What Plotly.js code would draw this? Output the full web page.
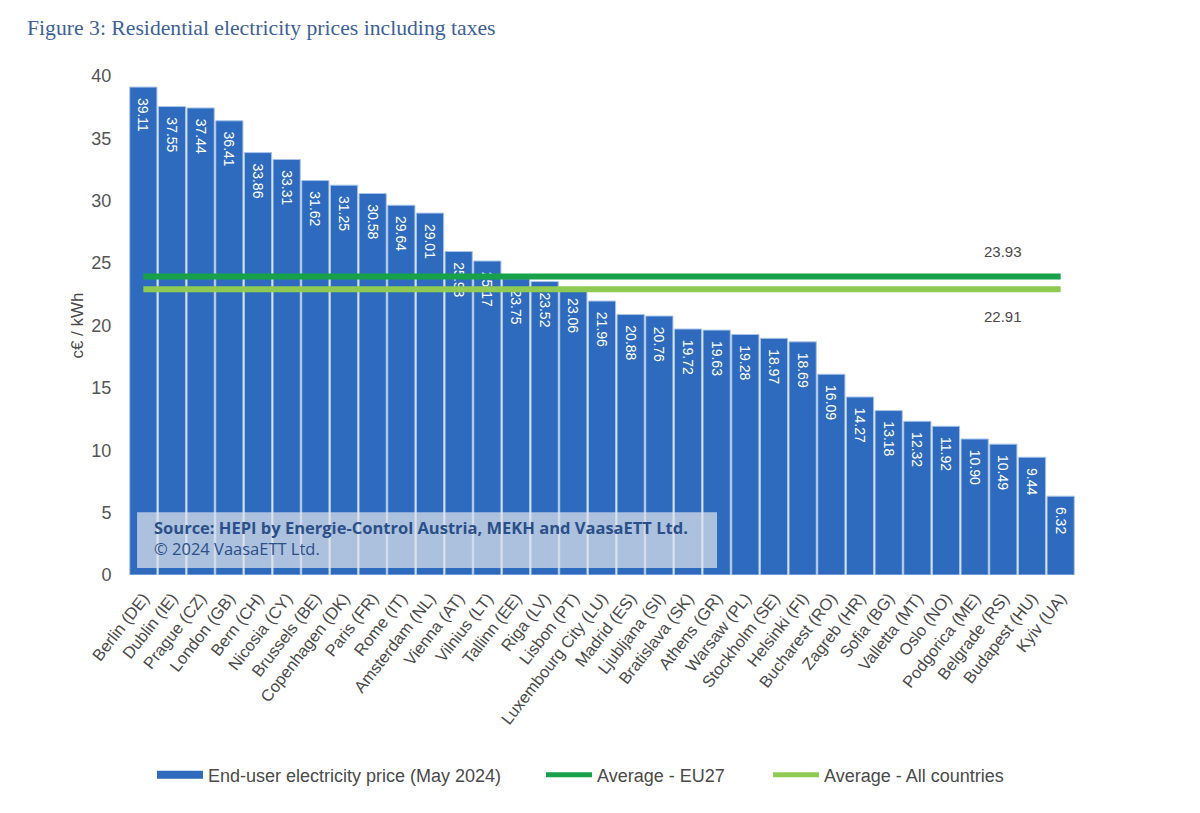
<!DOCTYPE html>
<html>
<head>
<meta charset="utf-8">
<script src="https://cdn.plot.ly/plotly-3.0.1.min.js"></script>
<style>
  html, body { margin: 0; padding: 0; background: #ffffff; }
  #chart { width: 1200px; height: 813px; }
</style>
</head>
<body>
<div id="chart"></div>
<script>
// Residential electricity prices including taxes, May 2024 (c€ / kWh)
const cities = [
  "Berlin (DE)", "Dublin (IE)", "Prague (CZ)", "London (GB)", "Bern (CH)",
  "Nicosia (CY)", "Brussels (BE)", "Copenhagen (DK)", "Paris (FR)", "Rome (IT)",
  "Amsterdam (NL)", "Vienna (AT)", "Vilnius (LT)", "Tallinn (EE)", "Riga (LV)",
  "Lisbon (PT)", "Luxembourg City (LU)", "Madrid (ES)", "Ljubljana (SI)",
  "Bratislava (SK)", "Athens (GR)", "Warsaw (PL)", "Stockholm (SE)",
  "Helsinki (FI)", "Bucharest (RO)", "Zagreb (HR)", "Sofia (BG)",
  "Valletta (MT)", "Oslo (NO)", "Podgorica (ME)", "Belgrade (RS)",
  "Budapest (HU)", "Kyiv (UA)"
];
const prices = [
  39.11, 37.55, 37.44, 36.41, 33.86,
  33.31, 31.62, 31.25, 30.58, 29.64,
  29.01, 25.93, 25.17, 23.75, 23.52,
  23.06, 21.96, 20.88, 20.76,
  19.72, 19.63, 19.28, 18.97,
  18.69, 16.09, 14.27, 13.18,
  12.32, 11.92, 10.90, 10.49,
  9.44, 6.32
];
const avgEU27 = 23.93;
const avgAll = 22.91;
const yTicks = [0, 5, 10, 15, 20, 25, 30, 35, 40];

const seriesNames = {
  price: "End-user electricity price (May 2024)",
  eu27: "Average - EU27",
  all: "Average - All countries"
};
const sourceLines = [
  "Source: HEPI by Energie-Control Austria, MEKH and VaasaETT Ltd.",
  "© 2024 VaasaETT Ltd."
];

const BLUE = "#2e6bbe";
const DARK_GREEN = "#17a24a";
const LIGHT_GREEN = "#8fcb52";
const TEXT_GREY = "#4a4a4a";
const SANS = "Liberation Sans, Arial, sans-serif";

const first = cities[0];
const last = cities[cities.length - 1];

const traces = [
  {
    type: "bar",
    x: cities,
    y: prices,
    marker: { color: BLUE, line: { color: "#a9c4ea", width: 1 } },
    // value labels sit a little below the top of each bar
    texttemplate: "\u00A0\u00A0%{y:.2f}",
    textposition: "inside",
    insidetextanchor: "end",
    textangle: 90,
    textfont: { family: SANS, size: 14, color: "#ffffff" },
    hoverinfo: "x+y",
    showlegend: false
  },
  {
    type: "scatter", mode: "lines",
    x: [first, last], y: [avgEU27, avgEU27],
    line: { color: DARK_GREEN, width: 6 },
    showlegend: false, hoverinfo: "y"
  },
  {
    type: "scatter", mode: "lines",
    x: [first, last], y: [avgAll, avgAll],
    line: { color: LIGHT_GREEN, width: 6 },
    showlegend: false, hoverinfo: "y"
  },
  // legend entries
  {
    type: "scatter", mode: "lines", x: [null], y: [null],
    name: seriesNames.price, legend: "legend",
    line: { color: BLUE, width: 8 }
  },
  {
    type: "scatter", mode: "lines", x: [null], y: [null],
    name: seriesNames.eu27, legend: "legend2",
    line: { color: DARK_GREEN, width: 5 }
  },
  {
    type: "scatter", mode: "lines", x: [null], y: [null],
    name: seriesNames.all, legend: "legend3",
    line: { color: LIGHT_GREEN, width: 5 }
  }
];

const legendBase = {
  orientation: "h",
  yanchor: "middle",
  y: -0.401,
  xanchor: "left",
  itemwidth: 46,
  bgcolor: "rgba(0,0,0,0)",
  font: { family: SANS, size: 18, color: TEXT_GREY }
};

const layout = {
  width: 1200,
  height: 813,
  paper_bgcolor: "#ffffff",
  plot_bgcolor: "#ffffff",
  margin: { l: 129, r: 125, t: 76, b: 238 },
  title: {
    text: "Figure 3: Residential electricity prices including taxes",
    x: 0.0225, xanchor: "left",
    y: 0.966, yanchor: "middle",
    font: { family: "Liberation Serif, DejaVu Serif, serif", size: 21.7, color: "#3d619a" }
  },
  bargap: 0.05,
  xaxis: {
    type: "category",
    tickangle: -52,
    tickfont: { family: SANS, size: 16.5, color: TEXT_GREY },
    ticks: "outside", ticklen: 6, tickcolor: "rgba(0,0,0,0)",
    showline: false, showgrid: false, zeroline: false,
    fixedrange: true
  },
  yaxis: {
    range: [0, 40],
    tickvals: yTicks,
    tickfont: { family: SANS, size: 18, color: "#555555" },
    ticks: "outside", ticklen: 13, tickcolor: "rgba(0,0,0,0)",
    showline: false, showgrid: false, zeroline: false,
    title: {
      text: "c€ / kWh",
      font: { family: SANS, size: 17, color: TEXT_GREY },
      standoff: 3
    },
    fixedrange: true
  },
  legend: Object.assign({}, legendBase, { x: 0.0243 }),
  legend2: Object.assign({}, legendBase, { x: 0.4355 }),
  legend3: Object.assign({}, legendBase, { x: 0.6755 }),
  shapes: [
    {
      type: "rect", xref: "paper", yref: "paper", layer: "above",
      x0: 0.0085, x1: 0.6216, y0: 0.014, y1: 0.126,
      fillcolor: "rgba(222,226,234,0.72)",
      line: { width: 0 }
    }
  ],
  annotations: [
    {
      xref: "paper", yref: "paper",
      x: 0.024, y: 0.074, xanchor: "left", yanchor: "middle",
      align: "left", showarrow: false,
      text: "<b>" + sourceLines[0] + "</b><br>" + sourceLines[1],
      font: { family: "Open Sans, Noto Sans, sans-serif", size: 16.5, color: "#2b4f88" }
    },
    {
      x: cities[30], y: avgEU27, yshift: 25,
      showarrow: false, text: avgEU27.toFixed(2),
      font: { family: SANS, size: 15, color: TEXT_GREY }
    },
    {
      x: cities[30], y: avgAll, yshift: -27,
      showarrow: false, text: avgAll.toFixed(2),
      font: { family: SANS, size: 15, color: TEXT_GREY }
    }
  ]
};

Plotly.newPlot("chart", traces, layout, { displayModeBar: false, responsive: false });
</script>
</body>
</html>
